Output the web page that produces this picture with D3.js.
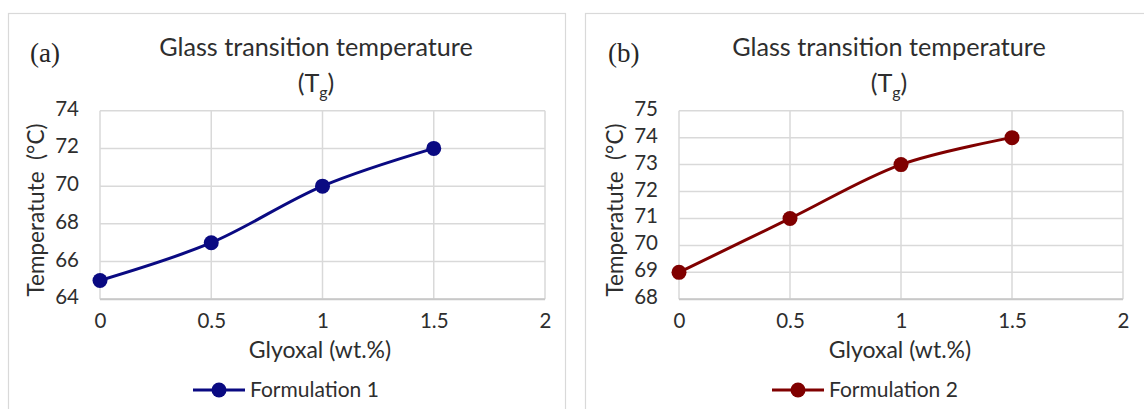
<!DOCTYPE html>
<html>
<head>
<meta charset="utf-8">
<script src="https://cdn.jsdelivr.net/npm/d3@7/dist/d3.min.js"></script>
<style>
  html, body { margin: 0; padding: 0; background: #ffffff; }
  svg { display: block; }
  text { font-family: Lato, "Open Sans", sans-serif; fill: #2e2e2e; }
  text.serif { font-family: "Liberation Serif", "DejaVu Serif", serif; fill: #262626; }
</style>
</head>
<body>
<svg id="chart" width="1144" height="409"></svg>
<script>
// ---- data ----
const glyoxal = [0, 0.5, 1, 1.5];
const formulation1 = [65, 67, 70, 72];
const formulation2 = [69, 71, 73, 74];
const xTicks = [0, 0.5, 1, 1.5, 2];
const xTickLabels = ["0", "0.5", "1", "1.5", "2"];
const yTicksA = [64, 66, 68, 70, 72, 74];
const yTicksB = [68, 69, 70, 71, 72, 73, 74, 75];
const seriesNames = ["Formulation 1", "Formulation 2"];
const panelLabels = ["(a)", "(b)"];
const chartTitle = "Glass transition temperature";
const xTitle = "Glyoxal (wt.%)";
const yTitle = "Temperatute  (°C)";

const svg = d3.select("#chart");

const panels = [
  { label: panelLabels[0], name: seriesNames[0], values: formulation1, yTicks: yTicksA,
    color: "#0a0a82", frameX: 8.5, frameW: 557, left: 100, right: 545,
    titleX: 316, xTitleX: 320, yTitleX: 36, labelX: 30, legendX: 193 },
  { label: panelLabels[1], name: seriesNames[1], values: formulation2, yTicks: yTicksB,
    color: "#800000", frameX: 585.5, frameW: 600, left: 679, right: 1123,
    titleX: 889, xTitleX: 900, yTitleX: 615, labelX: 608, legendX: 772 }
];

const plotTop = 110.7, plotBottom = 299.3;

panels.forEach(p => {
  const g = svg.append("g");
  // panel frame
  g.append("rect")
    .attr("x", p.frameX).attr("y", 13.5)
    .attr("width", p.frameW).attr("height", 420)
    .attr("fill", "none").attr("stroke", "#d9d9d9").attr("stroke-width", 1.2);

  const x = d3.scaleLinear().domain([xTicks[0], xTicks[xTicks.length - 1]]).range([p.left, p.right]);
  const y = d3.scaleLinear().domain([p.yTicks[0], p.yTicks[p.yTicks.length - 1]]).range([plotBottom, plotTop]);

  // gridlines
  g.append("g").selectAll("line").data(p.yTicks).join("line")
    .attr("x1", p.left).attr("x2", p.right)
    .attr("y1", d => y(d)).attr("y2", d => y(d))
    .attr("stroke", "#d9d9d9").attr("stroke-width", 1.5);
  g.append("g").selectAll("line").data(xTicks).join("line")
    .attr("y1", plotTop).attr("y2", plotBottom)
    .attr("x1", d => x(d)).attr("x2", d => x(d))
    .attr("stroke", "#d9d9d9").attr("stroke-width", 1.5);
  // bottom axis line (slightly darker)
  g.append("line")
    .attr("x1", p.left).attr("x2", p.right)
    .attr("y1", plotBottom).attr("y2", plotBottom)
    .attr("stroke", "#c8c8c8").attr("stroke-width", 2);

  // y axis labels
  const yAxis = d3.axisLeft(y).tickValues(p.yTicks).tickSize(0).tickPadding(0).tickFormat(d3.format("d"));
  const ya = g.append("g").attr("transform", `translate(${p.left - 21},0)`).call(yAxis);
  ya.select(".domain").remove();
  ya.selectAll("text").attr("font-size", 20.5).attr("dy", "0.22em");

  // x axis labels
  const xAxis = d3.axisBottom(x).tickValues(xTicks).tickSize(0).tickPadding(0)
    .tickFormat((d, i) => xTickLabels[i]);
  const xa = g.append("g").attr("transform", `translate(0,${plotBottom + 29})`).call(xAxis);
  xa.select(".domain").remove();
  xa.selectAll("text").attr("font-size", 20.5).attr("dy", 0);

  // line
  const line = d3.line()
    .x((d, i) => x(glyoxal[i]))
    .y(d => y(d))
    .curve(d3.curveCatmullRom.alpha(0.5));
  g.append("path").datum(p.values)
    .attr("d", line).attr("fill", "none")
    .attr("stroke", p.color).attr("stroke-width", 3);
  g.append("g").selectAll("circle").data(p.values).join("circle")
    .attr("cx", (d, i) => x(glyoxal[i])).attr("cy", d => y(d))
    .attr("r", 7.5).attr("fill", p.color);

  // titles
  g.append("text").attr("x", p.titleX).attr("y", 56)
    .attr("text-anchor", "middle").attr("font-size", 25.2).text(chartTitle);
  const t2 = g.append("text").attr("x", p.titleX).attr("y", 92)
    .attr("text-anchor", "middle").attr("font-size", 25.2);
  t2.append("tspan").text("(T");
  t2.append("tspan").attr("font-size", 16).attr("dy", 6).text("g");
  t2.append("tspan").attr("dy", -6).text(")");

  // panel label (serif)
  g.append("text").attr("class", "serif").attr("x", p.labelX).attr("y", 62)
    .attr("font-size", 27).text(p.label);

  // axis titles
  g.append("text").attr("x", p.xTitleX).attr("y", 358)
    .attr("text-anchor", "middle").attr("font-size", 23).text(xTitle);
  g.append("text")
    .attr("transform", `translate(${p.yTitleX + 8},210) rotate(-90)`)
    .attr("text-anchor", "middle").attr("font-size", 22.5)
    .style("white-space", "pre").text(yTitle);

  // legend
  const lg = g.append("g").attr("transform", `translate(${p.legendX},390)`);
  lg.append("line").attr("x1", 0).attr("x2", 52).attr("y1", 0).attr("y2", 0)
    .attr("stroke", p.color).attr("stroke-width", 3);
  lg.append("circle").attr("cx", 26).attr("cy", 0).attr("r", 7.5).attr("fill", p.color);
  lg.append("text").attr("x", 57).attr("y", 0).attr("dy", "0.35em")
    .attr("font-size", 21).text(p.name);
});
</script>
</body>
</html>
